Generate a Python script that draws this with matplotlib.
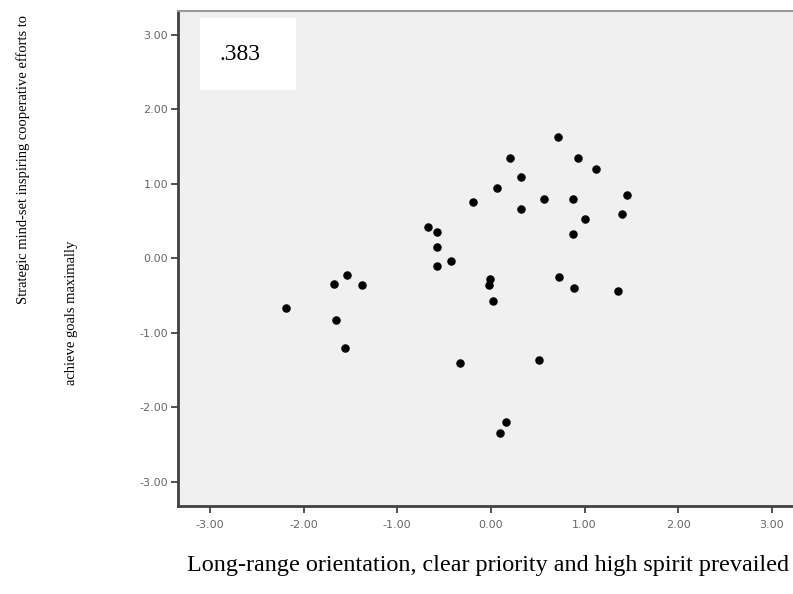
import matplotlib
matplotlib.use('Agg')
import matplotlib.pyplot as plt
import numpy as np

# 散点数据
x_vals = [-2.19, -1.68, -1.54, -1.38, -1.65, -1.555,
          -0.67, -0.57, -0.573, -0.57, -0.427, -0.19, -0.33,
          -0.007, -0.02, 0.02, 0.163, 0.096,
          0.067, 0.20, 0.32, 0.32, 0.57, 0.515,
          0.718, 0.935, 1.127,
          0.878, 1.455, 1.398, 1.003, 0.882, 0.732, 0.886, 1.362]
y_vals = [-0.67, -0.35, -0.23, -0.36, -0.83, -1.205,
          0.42, 0.356, 0.154, -0.10, -0.034, 0.76, -1.40,
          -0.28, -0.36, -0.57, -2.195, -2.34,
          0.94, 1.35, 1.085, 0.66, 0.80, -1.37,
          1.63, 1.35, 1.197,
          0.795, 0.852, 0.597, 0.526, 0.329, -0.248, -0.392, -0.436]
ticks = [-3, -2, -1, 0, 1, 2, 3]
tick_labels = ['-3.00', '-2.00', '-1.00', '0.00', '1.00', '2.00', '3.00']
r_text = '.383'

fig = plt.figure(figsize=(7.93, 5.94), dpi=100)
ax = fig.add_axes([0.2245, 0.1487, 0.7755, 0.8328])
ax.set_facecolor('#f0f0f0')
ax.scatter(x_vals, y_vals, s=26, color='black', zorder=3)

ax.set_xlim(-3.34, 3.226)
ax.set_ylim(-3.32, 3.32)
ax.set_xticks(ticks)
ax.set_xticklabels(tick_labels)
ax.set_yticks(ticks)
ax.set_yticklabels(tick_labels)
ax.tick_params(axis='both', labelsize=8, labelcolor='#666666', color='#444444',
               length=5, width=1.3, direction='out', pad=2)
ax.tick_params(axis='x', pad=5)

ax.spines['right'].set_visible(False)
ax.spines['top'].set_color('#999999')
ax.spines['top'].set_linewidth(1.5)
for s in ['left', 'bottom']:
    ax.spines[s].set_color('#404040')
    ax.spines[s].set_linewidth(2)

# 白色标注框
fig.patches.append(plt.Rectangle((200 / 793, 1 - 90 / 594), 96 / 793, 72 / 594,
                                 transform=fig.transFigure, facecolor='white',
                                 edgecolor='none', zorder=5))
fig.text(240 / 793, 1 - 54 / 594, r_text, fontsize=17, family='Liberation Serif',
         ha='center', va='center', zorder=6)

fig.text(23 / 793, 1 - 160 / 594, 'Strategic mind-set inspiring cooperative efforts to',
         rotation=90, fontsize=10.5, family='Liberation Serif', ha='center', va='center')
fig.text(71 / 793, 1 - 313 / 594, 'achieve goals maximally',
         rotation=90, fontsize=10.5, family='Liberation Serif', ha='center', va='center')
fig.text(488 / 793, 1 - 566 / 594,
         'Long-range orientation, clear priority and high spirit prevailed',
         fontsize=17.4, family='Liberation Serif', ha='center', va='center')

fig.savefig('out.png', dpi=100)
